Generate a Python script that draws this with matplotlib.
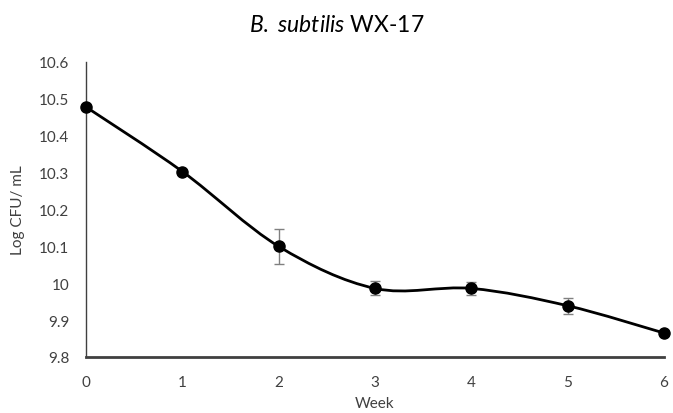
import matplotlib
matplotlib.use("Agg")
import matplotlib.pyplot as plt
import numpy as np
from matplotlib.path import Path
from matplotlib.patches import PathPatch

weeks = [0, 1, 2, 3, 4, 5, 6]
log_cfu = [10.478, 10.303, 10.100, 9.986, 9.986, 9.939, 9.865]
err = [0.003, 0.003, 0.047, 0.019, 0.018, 0.022, 0.003]

yticks = [9.8, 9.9, 10.0, 10.1, 10.2, 10.3, 10.4, 10.5, 10.6]
ytick_labels = ["9.8", "9.9", "10", "10.1", "10.2", "10.3", "10.4", "10.5", "10.6"]

TEXT = "#404040"

plt.rcParams.update({
    "font.family": ["Lato", "DejaVu Sans"],
    "mathtext.fontset": "custom",
    "mathtext.rm": "Lato",
    "mathtext.it": "Lato:italic",
})


def smooth_path(x, y):
    # Excel-style smoothed line: Catmull-Rom segments as cubic Beziers
    pts = np.column_stack([x, y]).astype(float)
    n = len(pts)
    verts = [pts[0]]
    codes = [Path.MOVETO]
    for i in range(n - 1):
        p0 = pts[i - 1] if i > 0 else pts[i]
        p1 = pts[i]
        p2 = pts[i + 1]
        p3 = pts[i + 2] if i + 2 < n else pts[i + 1]
        c1 = p1 + (p2 - p0) / 6.0
        c2 = p2 - (p3 - p1) / 6.0
        verts += [c1, c2, p2]
        codes += [Path.CURVE4] * 3
    return Path(verts, codes)


fig = plt.figure(figsize=(6.73, 4.14), dpi=100)
ax = fig.add_axes([86 / 673, 1 - 358 / 414, (664 - 86) / 673, (358 - 63) / 414])

ax.add_patch(PathPatch(smooth_path(weeks, log_cfu), facecolor="none",
                       edgecolor="black", linewidth=2.0, zorder=3))
ax.errorbar(weeks, log_cfu, yerr=err, fmt="none", ecolor="#808080",
            elinewidth=1.0, capsize=3.5, capthick=1.0, zorder=2)
ax.plot(weeks, log_cfu, "o", color="black", markersize=8, zorder=4, clip_on=False)

ax.set_xlim(0, 6)
ax.set_ylim(9.8, 10.6)
ax.set_xticks(weeks)
ax.set_yticks(yticks)
ax.set_yticklabels(ytick_labels)
ax.tick_params(length=0, labelsize=11, colors=TEXT)
ax.tick_params(axis="x", pad=13)
ax.tick_params(axis="y", pad=12)

for s in ("top", "right"):
    ax.spines[s].set_visible(False)
ax.spines["left"].set_color("#404040")
ax.spines["left"].set_linewidth(1.0)
ax.spines["bottom"].set_color("#404040")
ax.spines["bottom"].set_linewidth(2.0)

ax.set_xlabel("Week", fontsize=11, color=TEXT, labelpad=5)
ax.set_ylabel("Log CFU/ mL", fontsize=11, color=TEXT, labelpad=10)

fig.text(0.5, 1 - 25 / 414, r"$\mathit{B.}$ $\mathit{subtilis}$ WX-17", ha="center",
         va="center", fontsize=16.5, color="black")

fig.savefig("out.png", dpi=100)
